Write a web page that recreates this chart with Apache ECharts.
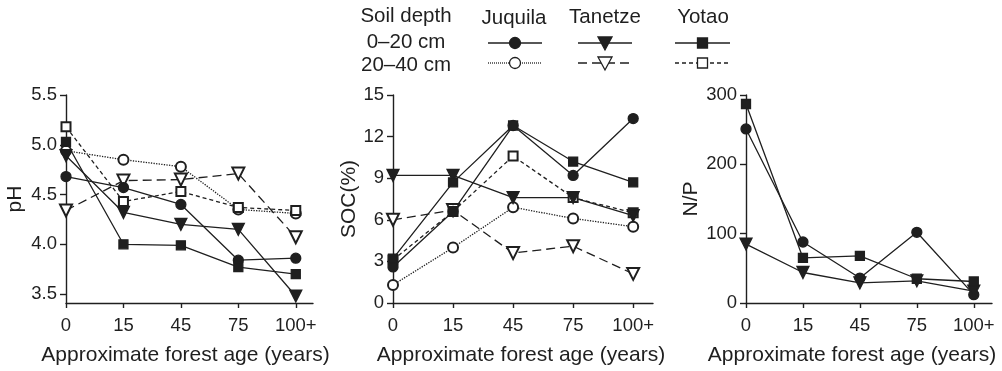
<!DOCTYPE html>
<html>
<head>
<meta charset="utf-8">
<script src="https://cdn.jsdelivr.net/npm/echarts@6/dist/echarts.min.js"></script>
<style>
  html, body { margin: 0; padding: 0; background: #fff; }
  #main { width: 1002px; height: 371px; }
</style>
</head>
<body>
<div id="main"></div>
<script>
const ages = ['0', '15', '45', '75', '100+'];
const agePos = [0, 1, 2, 3, 4];

// pH, 0-20 cm and 20-40 cm
const phJuquila020 = [4.68, 4.57, 4.40, 3.84, 3.86];
const phJuquila2040 = [4.94, 4.85, 4.78, 4.35, 4.31];
const phTanetze020 = [4.89, 4.32, 4.20, 4.15, 3.48];
const phTanetze2040 = [4.34, 4.64, 4.65, 4.71, 4.07];
const phYotao020 = [5.03, 4.00, 3.99, 3.77, 3.70];
const phYotao2040 = [5.18, 4.43, 4.53, 4.37, 4.34];
const phTicks = [3.5, 4.0, 4.5, 5.0, 5.5];

// SOC (%)
const socJuquila020 = [2.6, 6.6, 12.8, 9.2, 13.3];
const socJuquila2040 = [1.3, 4.0, 6.9, 6.1, 5.5];
const socTanetze020 = [9.2, 9.2, 7.6, 7.6, 6.3];
const socTanetze2040 = [6.0, 6.7, 3.6, 4.1, 2.1];
const socYotao020 = [3.2, 8.7, 12.8, 10.2, 8.7];
const socYotao2040 = [3.1, 6.6, 10.6, 7.6, 6.5];

// N/P (0-20 cm only)
const npJuquila = [251, 88, 36, 102, 12];
const npTanetze = [85, 44, 29, 32, 17];
const npYotao = [287, 65, 68, 35, 31];

const ink = '#1f1f1f';
const font = 'Liberation Sans, Arial, Helvetica, sans-serif';

// marker / line look for each site and depth
const look = {
  juq020: { symbol: 'circle', size: 10, rotate: 0, type: 'solid' },
  juq2040: { symbol: 'emptyCircle', size: 10, rotate: 0, type: 'dotted' },
  tan020: { symbol: 'triangle', size: 12, rotate: 180, type: 'solid' },
  tan2040: { symbol: 'emptyTriangle', size: 12, rotate: 180, type: [9, 5] },
  yot020: { symbol: 'rect', size: 9, rotate: 0, type: 'solid' },
  yot2040: { symbol: 'emptyRect', size: 9, rotate: 0, type: [4, 3] }
};

function line(name, idx, values, key) {
  const s = look[key];
  return {
    name: name,
    type: 'line',
    xAxisIndex: idx,
    yAxisIndex: idx,
    data: values.map((v, i) => [agePos[i], v]),
    symbol: s.symbol,
    symbolSize: s.size,
    symbolRotate: s.rotate,
    showAllSymbol: true,
    lineStyle: { color: ink, width: 1.3, type: s.type },
    itemStyle: { color: ink, borderColor: ink, borderWidth: 1.3 },
    emphasis: { disabled: true },
    animation: false
  };
}

const grids = [
  { left: 66, top: 95, width: 247, height: 214 },
  { left: 393, top: 95, width: 260, height: 215 },
  { left: 746, top: 95, width: 246, height: 214 }
];
const xMax = [4.3, 4.33, 4.32];
const titleShift = [8, 4, 34];

const xAxes = grids.map((g, i) => ({
  type: 'value',
  gridIndex: i,
  min: 0,
  max: xMax[i],
  name: 'Approximate forest age (years)',
  nameLocation: 'middle',
  nameGap: 42,
  nameTextStyle: { fontFamily: font, fontSize: 21, color: ink, padding: [0, titleShift[i], 0, 0] },
  axisLine: { lineStyle: { color: ink, width: 1.4 } },
  axisTick: { customValues: agePos, length: 5, lineStyle: { color: ink, width: 1.4 } },
  axisLabel: {
    customValues: agePos,
    formatter: v => ages[Math.round(v)],
    margin: 13,
    fontFamily: font, fontSize: 18.5, color: ink
  },
  splitLine: { show: false }
}));

const yBase = {
  nameLocation: 'middle',
  nameRotate: 90,
  axisLine: { show: true, lineStyle: { color: ink, width: 1.4 } },
  splitLine: { show: false }
};

const yAxes = [
  Object.assign({}, yBase, {
    type: 'value', gridIndex: 0, min: 3.41, max: 5.5,
    name: 'pH', nameGap: 40,
    nameTextStyle: { fontFamily: font, fontSize: 21, color: ink },
    axisTick: { customValues: phTicks, length: 6, lineStyle: { color: ink, width: 1.4 } },
    axisLabel: { customValues: phTicks, formatter: v => v.toFixed(1), margin: 9, fontFamily: font, fontSize: 18.5, color: ink }
  }),
  Object.assign({}, yBase, {
    type: 'value', gridIndex: 1, min: 0, max: 15, interval: 3,
    name: 'SOC(%)', nameGap: 33,
    nameTextStyle: { fontFamily: font, fontSize: 21, color: ink },
    axisTick: { length: 6, lineStyle: { color: ink, width: 1.4 } },
    axisLabel: { margin: 9, fontFamily: font, fontSize: 18.5, color: ink }
  }),
  Object.assign({}, yBase, {
    type: 'value', gridIndex: 2, min: 0, max: 300, interval: 100,
    name: 'N/P', nameGap: 44,
    nameTextStyle: { fontFamily: font, fontSize: 21, color: ink },
    axisTick: { length: 6, lineStyle: { color: ink, width: 1.4 } },
    axisLabel: { margin: 9, fontFamily: font, fontSize: 18.5, color: ink }
  })
];

const series = [
  line('Juquila 20–40 cm', 0, phJuquila2040, 'juq2040'),
  line('Tanetze 20–40 cm', 0, phTanetze2040, 'tan2040'),
  line('Yotao 20–40 cm', 0, phYotao2040, 'yot2040'),
  line('Juquila 0–20 cm', 0, phJuquila020, 'juq020'),
  line('Tanetze 0–20 cm', 0, phTanetze020, 'tan020'),
  line('Yotao 0–20 cm', 0, phYotao020, 'yot020'),

  line('Juquila 20–40 cm', 1, socJuquila2040, 'juq2040'),
  line('Tanetze 20–40 cm', 1, socTanetze2040, 'tan2040'),
  line('Yotao 20–40 cm', 1, socYotao2040, 'yot2040'),
  line('Juquila 0–20 cm', 1, socJuquila020, 'juq020'),
  line('Tanetze 0–20 cm', 1, socTanetze020, 'tan020'),
  line('Yotao 0–20 cm', 1, socYotao020, 'yot020'),

  line('Juquila 0–20 cm', 2, npJuquila, 'juq020'),
  line('Tanetze 0–20 cm', 2, npTanetze, 'tan020'),
  line('Yotao 0–20 cm', 2, npYotao, 'yot020')
];

// legend drawn as a small table at the top
function legendText(text, x, y) {
  return { type: 'text', x: x, y: y, style: { text: text, font: '20.5px ' + font, fill: ink, align: 'center', verticalAlign: 'middle' } };
}
function legendSample(x1, x2, y, key, filled) {
  const s = look[key];
  const cx = (x1 + x2) / 2;
  const dash = s.type === 'solid' ? null : (s.type === 'dotted' ? [1, 1] : s.type);
  const items = [{
    type: 'line', shape: { x1: x1, y1: y, x2: x2, y2: y },
    style: { stroke: ink, lineWidth: 1.3, lineDash: dash }
  }];
  const fill = filled ? ink : '#fff';
  const sty = { fill: fill, stroke: ink, lineWidth: 1.3 };
  if (key.startsWith('juq')) {
    items.push({ type: 'circle', shape: { cx: cx, cy: y, r: 5.5 }, style: sty, z: 2 });
  } else if (key.startsWith('tan')) {
    items.push({ type: 'polygon', shape: { points: [[cx - 7, y - 6], [cx + 7, y - 6], [cx, y + 7]] }, style: sty, z: 2 });
  } else {
    items.push({ type: 'rect', shape: { x: cx - 5, y: y - 5, width: 10, height: 10 }, style: sty, z: 2 });
  }
  return items;
}

const legendItems = [].concat(
  [legendText('Soil depth', 406, 16), legendText('0–20 cm', 406, 42), legendText('20–40 cm', 406, 65),
   legendText('Juquila', 514, 18), legendText('Tanetze', 605, 17), legendText('Yotao', 703, 17)],
  legendSample(488, 542, 43, 'juq020', true),
  legendSample(488, 542, 63, 'juq2040', false),
  legendSample(578, 632, 43, 'tan020', true),
  legendSample(578, 632, 63, 'tan2040', false),
  legendSample(675, 730, 43, 'yot020', true),
  legendSample(675, 730, 63, 'yot2040', false)
);

const chart = echarts.init(document.getElementById('main'), null, { renderer: 'canvas' });
chart.setOption({
  backgroundColor: '#fff',
  animation: false,
  grid: grids,
  xAxis: xAxes,
  yAxis: yAxes,
  series: series,
  graphic: legendItems
});
</script>
</body>
</html>
